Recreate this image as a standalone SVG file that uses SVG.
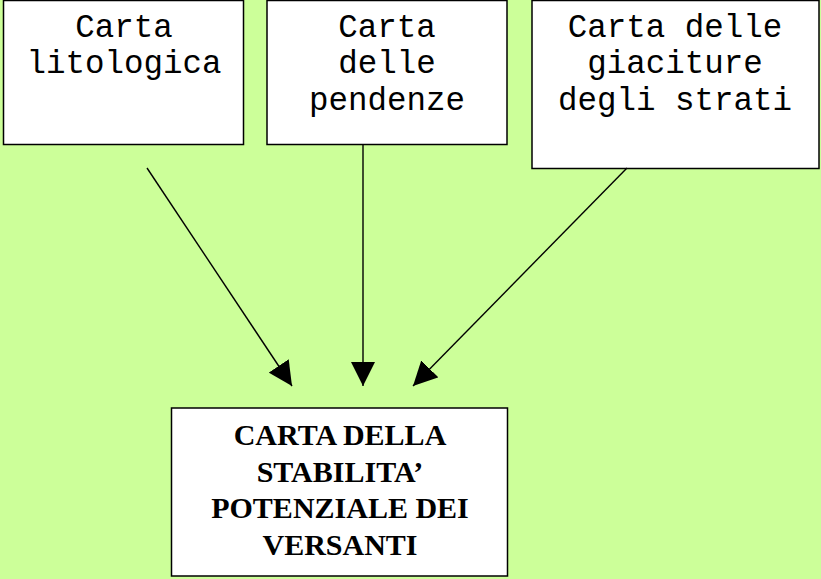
<svg xmlns="http://www.w3.org/2000/svg" width="821" height="579" viewBox="0 0 821 579">
  <defs>
    <style>
      .box { fill: #ffffff; stroke: #000000; stroke-width: 1.5; }
      .mono { font-family: "Liberation Mono", "Courier New", monospace; font-size: 32.5px; fill: #000000; text-anchor: middle; }
      .serif { font-family: "Liberation Serif", "Times New Roman", serif; font-size: 30px; font-weight: bold; fill: #000000; text-anchor: middle; }
      .conn { stroke: #000000; stroke-width: 1.4; fill: none; marker-end: url(#arrow); }
    </style>
    <marker id="arrow" markerUnits="userSpaceOnUse" markerWidth="24" markerHeight="24" viewBox="0 0 22 22" refX="22" refY="11" orient="auto">
      <path d="M0,0 L22,11 L0,22 Z" fill="#000000"/>
    </marker>
  </defs>
  <rect x="0" y="0" width="821" height="579" fill="#CCFF99"/>

  <g id="node-litologica">
    <rect class="box" x="3.5" y="0.5" width="240" height="144"/>
    <text class="mono" x="124" y="37">Carta</text>
    <text class="mono" x="124" y="73">litologica</text>
  </g>

  <g id="node-pendenze">
    <rect class="box" x="267" y="0.5" width="240" height="144"/>
    <text class="mono" x="387" y="37">Carta</text>
    <text class="mono" x="387" y="73">delle</text>
    <text class="mono" x="387" y="110">pendenze</text>
  </g>

  <g id="node-giaciture">
    <rect class="box" x="532" y="0.5" width="287" height="168"/>
    <text class="mono" x="675" y="37">Carta delle</text>
    <text class="mono" x="675" y="73">giaciture</text>
    <text class="mono" x="675" y="110">degli strati</text>
  </g>

  <g id="node-stabilita">
    <rect class="box" x="171.5" y="408" width="336" height="168"/>
    <text class="serif" x="340" y="445">CARTA DELLA</text>
    <text class="serif" x="340" y="482">STABILITA’</text>
    <text class="serif" x="340" y="518">POTENZIALE DEI</text>
    <text class="serif" x="340" y="555">VERSANTI</text>
  </g>

  <g id="connectors">
    <line class="conn" x1="147" y1="168" x2="292" y2="386"/>
    <line class="conn" x1="363" y1="145" x2="363" y2="386"/>
    <line class="conn" x1="627" y1="168" x2="413" y2="386"/>
  </g>
</svg>
